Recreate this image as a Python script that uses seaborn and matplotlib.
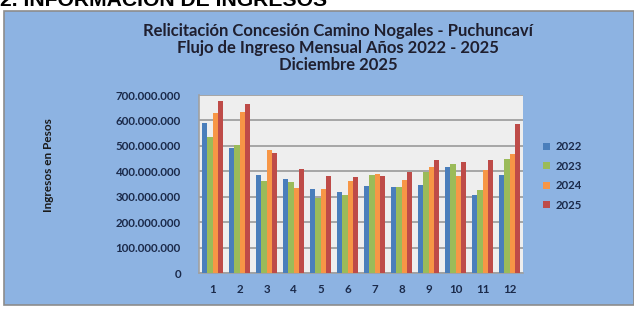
import numpy as np
import pandas as pd
import matplotlib.pyplot as plt
import matplotlib.ticker as mticker
from matplotlib.patches import Rectangle
import seaborn as sns

# Monthly income (pesos) per year
meses = list(range(1, 13))
anios = ['2022', '2023', '2024', '2025']
ing_2022 = [591e6, 493e6, 384e6, 368e6, 332e6, 319e6, 343e6, 338e6, 347e6, 415e6, 307e6, 385e6]
ing_2023 = [536e6, 503e6, 360e6, 357e6, 294e6, 305e6, 385e6, 339e6, 396e6, 428e6, 325e6, 448e6]
ing_2024 = [631e6, 633e6, 484e6, 336e6, 331e6, 361e6, 390e6, 365e6, 417e6, 382e6, 407e6, 468e6]
ing_2025 = [678e6, 666e6, 473e6, 409e6, 382e6, 376e6, 381e6, 399e6, 444e6, 438e6, 444e6, 585e6]
colores = ['#4A7EBB', '#9BBB59', '#F79646', '#BE4B48']

df = pd.DataFrame({
    'Mes': meses * 4,
    'Año': np.repeat(anios, 12),
    'Ingreso': ing_2022 + ing_2023 + ing_2024 + ing_2025,
})

sns.set_style('white')
plt.rcParams['font.family'] = ['Lato', 'DejaVu Sans']

fig = plt.figure(figsize=(6.34, 3.09), dpi=100, facecolor='white')
W, H = 634, 309

# blue panel behind the chart
fig.patches.append(Rectangle((4 / W, 4 / H), 1 - 4 / W, (298 - 4) / H,
                             transform=fig.transFigure, facecolor='#8DB3E2',
                             edgecolor='#8C8C8C', linewidth=1.2, zorder=-5))

# section header, cut off at the top of the picture
fig.text(0.0, 1 - 6.5 / H, '2. INFORMACIÓN DE INGRESOS', fontsize=15.2, fontweight='bold',
         color='black', ha='left', va='baseline', family=['Liberation Sans', 'DejaVu Sans'])

ax = fig.add_axes([199 / W, 1 - 273 / H, 324 / W, 178 / H], zorder=2)
ax.set_facecolor('#EEEEEE')

sns.barplot(data=df, x='Mes', y='Ingreso', hue='Año', palette=colores,
            width=0.8, saturation=1, linewidth=0, ax=ax, zorder=3)

ax.set_ylim(0, 700e6)
ax.set_yticks(np.arange(0, 700e6 + 1, 100e6))
ax.yaxis.set_major_formatter(mticker.FuncFormatter(lambda v, p: f'{int(v):,}'.replace(',', '.')))
ax.grid(axis='y', color='#A6A6A6', linewidth=1.4, zorder=1)
ax.set_axisbelow(True)

for s in ['top', 'right']:
    ax.spines[s].set_visible(False)
for s in ['left', 'bottom']:
    ax.spines[s].set_color('#A0A0A0')
    ax.spines[s].set_linewidth(1.2)

ax.tick_params(axis='both', colors='#A0A0A0', length=3, labelcolor='#1B2A4A',
               labelsize=8.3)
for lab in ax.get_xticklabels() + ax.get_yticklabels():
    lab.set_fontweight('bold')
ax.tick_params(axis='y', pad=10)
ax.tick_params(axis='x', pad=5)

ax.set_xlabel('')
ax.set_ylabel('')
fig.text(48 / W, 1 - 165 / H, 'Ingresos en Pesos', rotation=90, fontsize=8.5,
         fontweight='bold', color='#1A1A1A', ha='center', va='center')

titulo = ('Relicitación Concesión Camino Nogales - Puchuncaví\n'
          'Flujo de Ingreso Mensual Años 2022 - 2025\n'
          'Diciembre 2025')
fig.text(338 / W, 1 - 48 / H, titulo, fontsize=12, fontweight='bold', color='#1F1F2F',
         ha='center', va='center', linespacing=1.08)

leg = ax.legend(loc='center left', bbox_to_anchor=(533 / W, 1 - 176 / H),
                bbox_transform=fig.transFigure, frameon=False, fontsize=8.2,
                handlelength=0.6, handleheight=0.6, handletextpad=0.5, labelspacing=0.75)
for t in leg.get_texts():
    t.set_fontweight('bold')
    t.set_color('#1B2A4A')

fig.savefig('out.png', dpi=100, facecolor=fig.get_facecolor())
